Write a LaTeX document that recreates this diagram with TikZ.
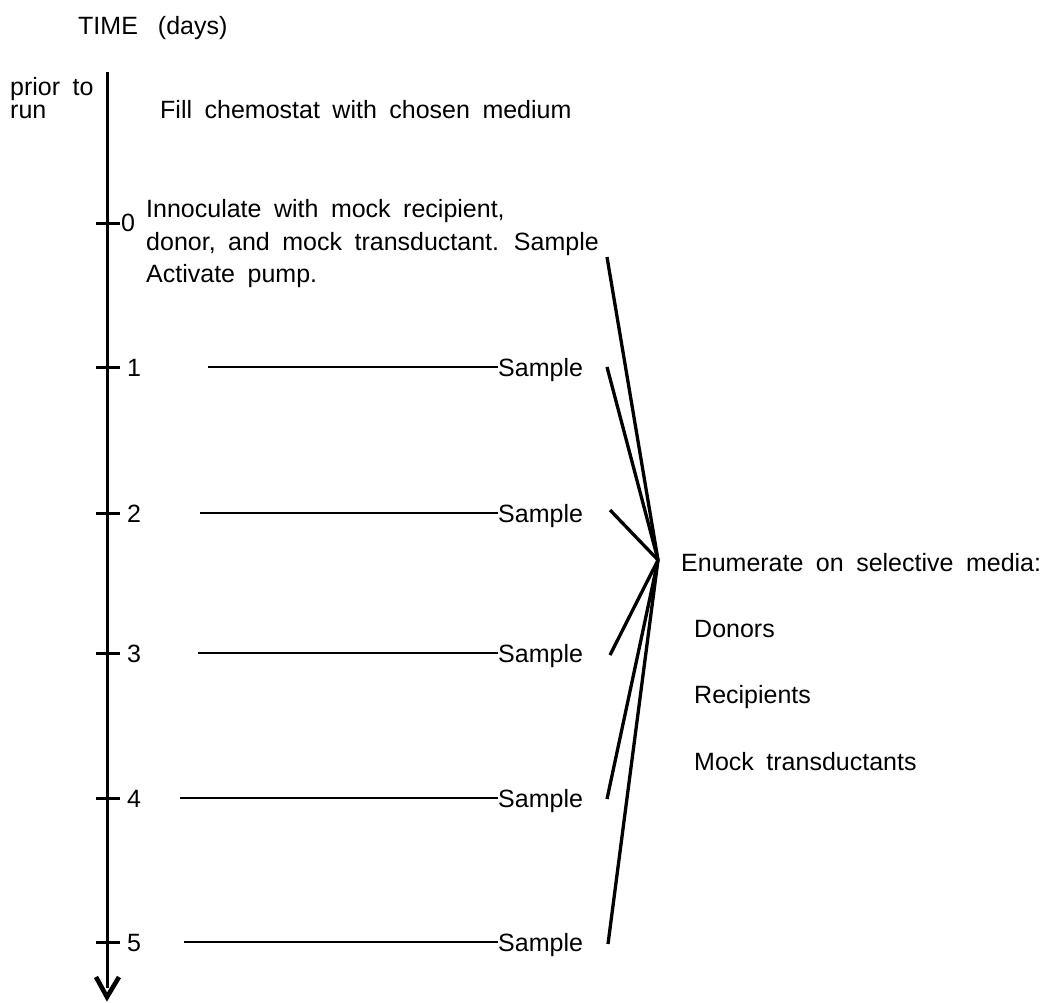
\documentclass[tikz,border=0pt]{standalone}
\usepackage{fontspec}
\setmainfont{Liberation Sans}
\newcommand\mywsp{\spaceskip=0.5em\relax}
\begin{document}
\begin{tikzpicture}[x=1pt,y=-1pt,
  txt/.style={inner sep=0pt,anchor=base west,font=\fontsize{25}{30}\selectfont\mywsp},
  tick/.style={line width=3pt},
  sampleline/.style={line width=2.2pt},
  conv/.style={line width=3.3pt}]
\useasboundingbox (0,0) rectangle (1056,1002);
% title
\node[txt] (title) at (78,34) {TIME\hspace{0.8em}(days)};
\node[txt] (prior) at (10,95) {prior to};
\node[txt] (run) at (10,118) {run};
\node[txt] (fill) at (160,118) {Fill chemostat with chosen medium};
% axis
\coordinate (top) at (107,72);
\draw[line width=3pt] (top) -- (107,988);
\draw[line width=4.6pt,line join=miter] (96,977) -- (107,997) -- (119,977);
% ticks
\foreach \n/\y in {0/223,1/367,2/513,3/653,4/798,5/942}{
  \coordinate (t\n) at (107,\y);
  \draw[tick] (96,\y) -- (120,\y);
}
\node[txt] (l0) at (121,231) {0};
\foreach \n/\y in {1/367,2/513,3/653,4/798,5/942}{
  \node[txt] (l\n) at (127,\y+9) {\n};
}
\node[txt] (inoc1) at (146,217) {Innoculate with mock recipient,};
\node[txt] (inoc2) at (146,250) {donor, and mock transductant. Sample};
\node[txt] (inoc3) at (146,282) {Activate pump.};
% samples
\foreach \n/\x/\y in {1/208/367,2/200/513,3/198/653,4/180/798,5/184/942}{
  \node[txt] (s\n) at (498,\y+9) {Sample};
  \coordinate (a\n) at (\x,\y);
  \draw[sampleline] (a\n) -- (s\n.west |- a\n);
}
% convergence
\coordinate (c) at (658,560);
\coordinate (e0) at (607,257);
\coordinate (e1) at (607,367);
\coordinate (e2) at (610,510);
\coordinate (e3) at (610,655);
\coordinate (e4) at (607,799);
\coordinate (e5) at (608,944);
\foreach \i in {0,...,5}{\draw[conv] (e\i) -- (c);}
% right text
\node[txt] (enum) at (681,571) {Enumerate on selective media:};
\node[txt] (don) at (694,637) {Donors};
\node[txt] (rec) at (694,703) {Recipients};
\node[txt] (mock) at (694,770) {Mock transductants};
\end{tikzpicture}
\end{document}
